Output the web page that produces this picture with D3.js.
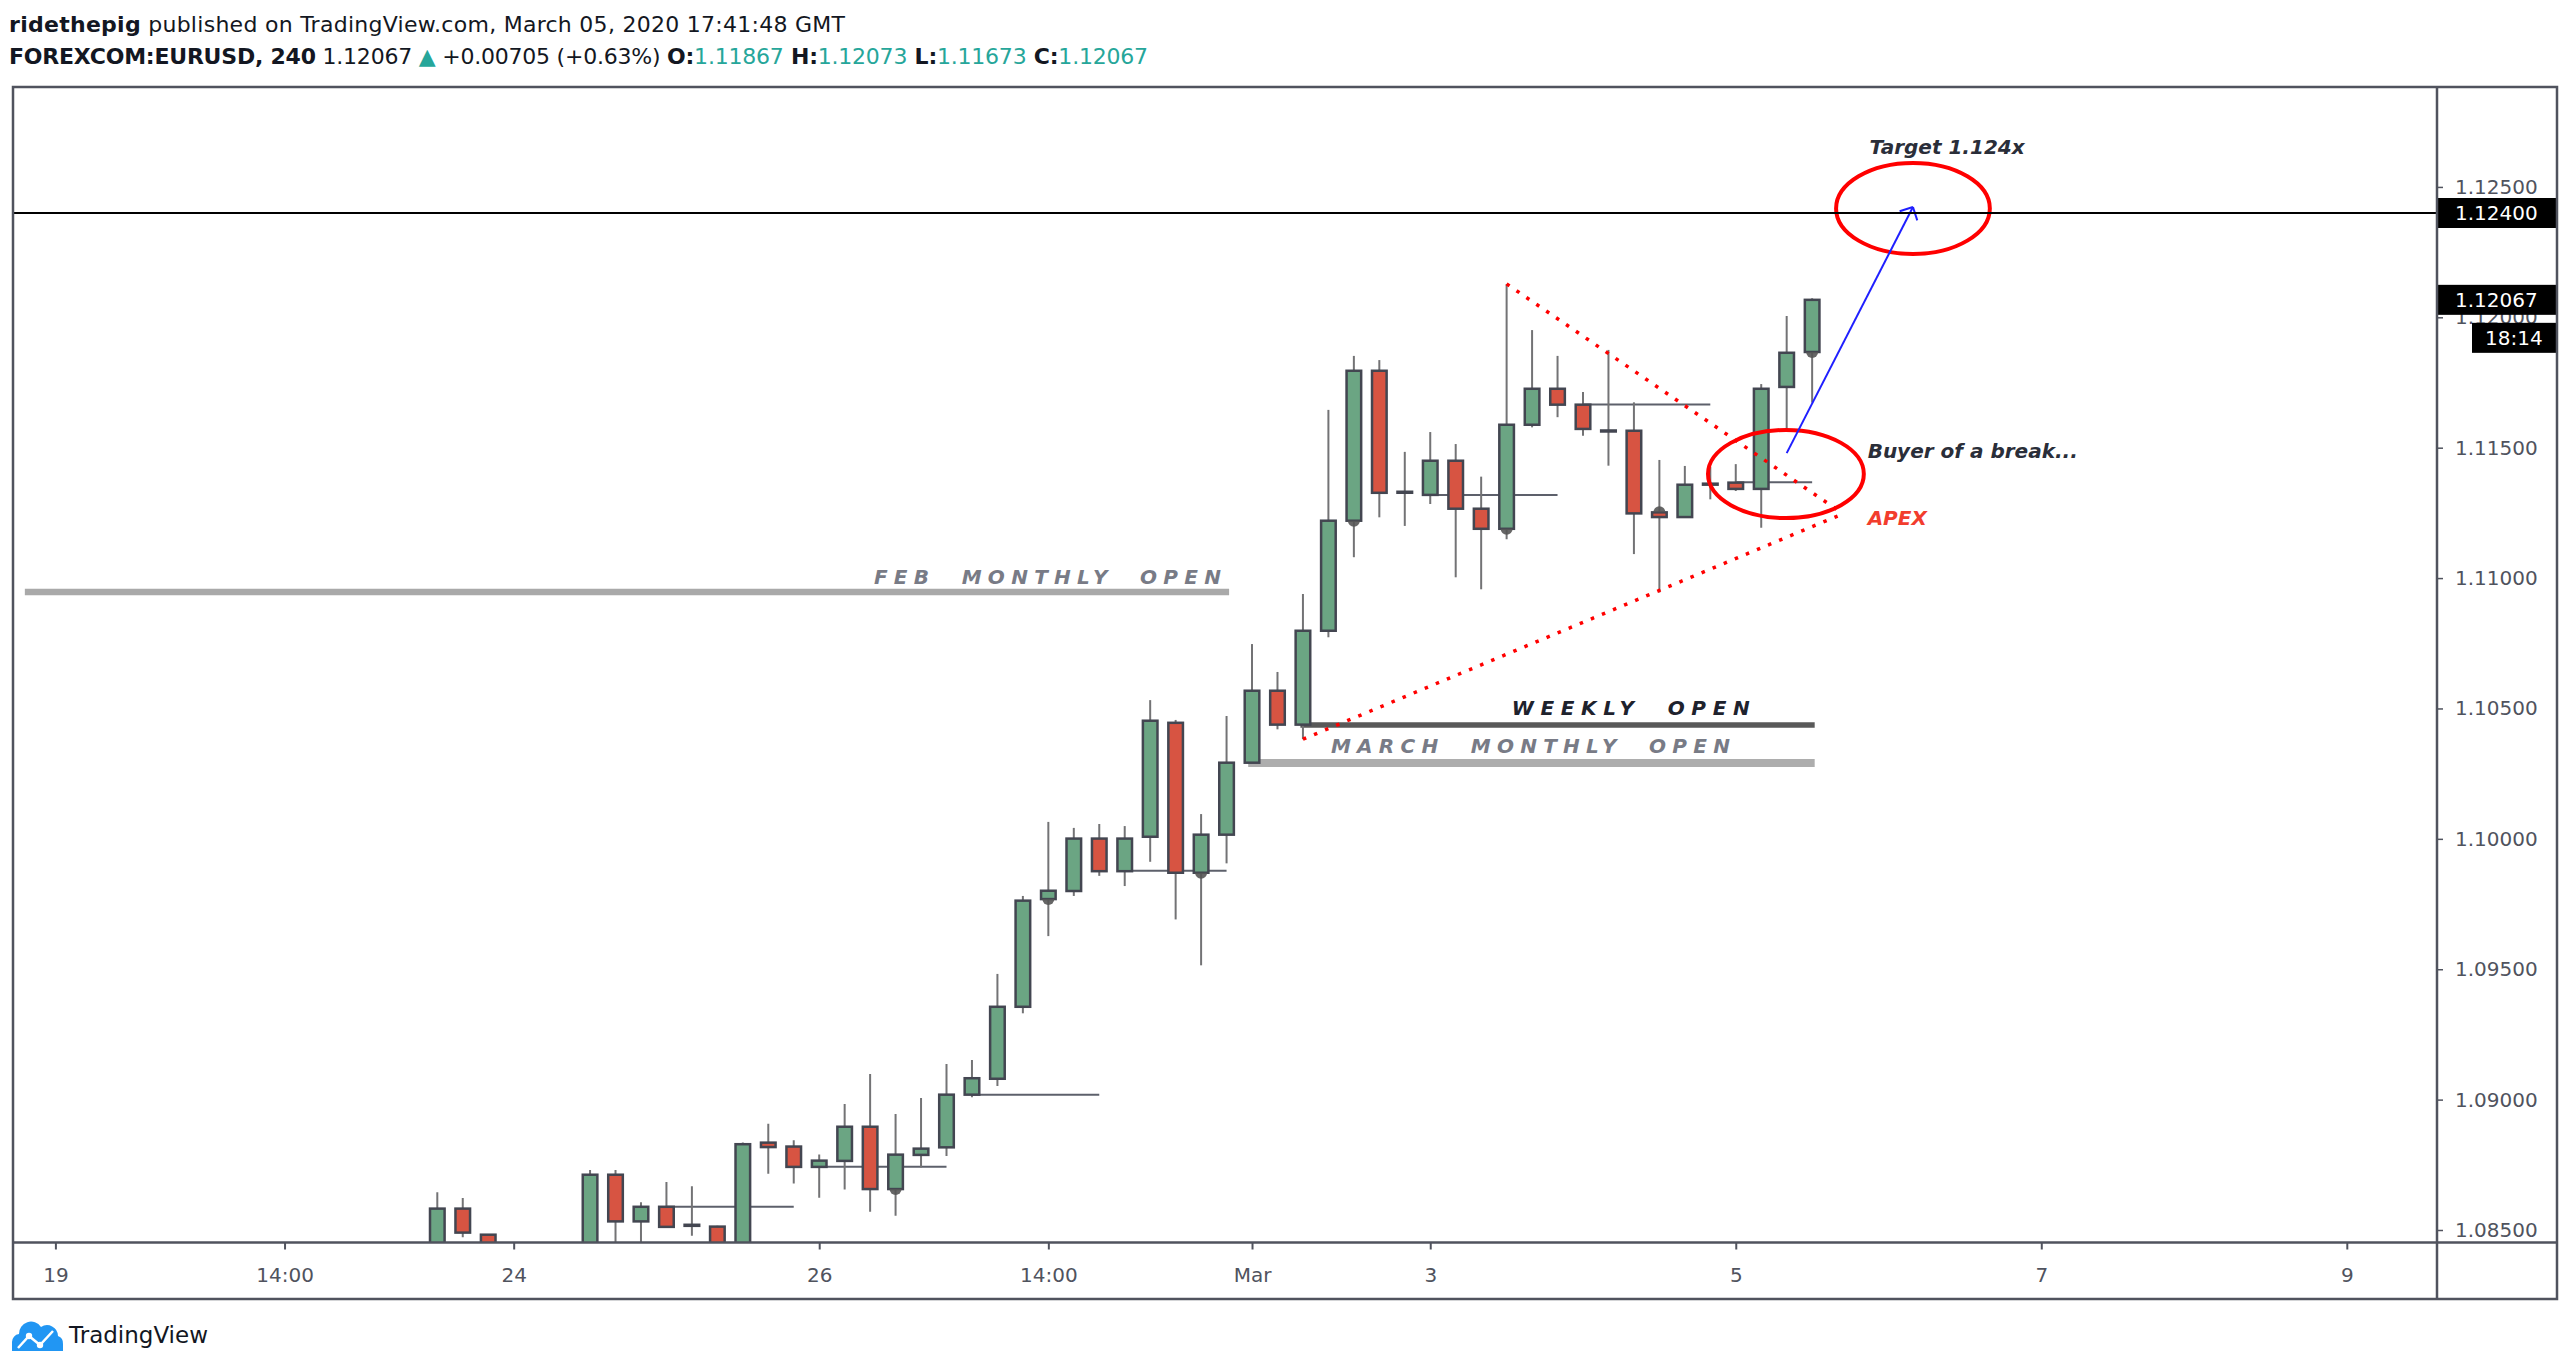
<!DOCTYPE html>
<html>
<head>
<meta charset="utf-8">
<title>EURUSD 240</title>
<script src="https://cdn.jsdelivr.net/npm/d3@7"></script>
<style>
  body { margin: 0; background: #fff; }
  text { font-family: "DejaVu Sans", sans-serif; }
</style>
</head>
<body>
<div id="chart"></div>
<script>
// 4h candles, bar 0 = first candle showing above the bottom edge (Feb 21)
// bars 3-5 sit under the visible range, only a guess
var opens  = [1.0838, 1.08582, 1.08482, 1.0842, 1.0833, 1.0836, 1.0839, 1.08712, 1.08533, 1.08589,
              1.08520, 1.08513, 1.0843, 1.08835, 1.08820, 1.08742, 1.08765, 1.08896, 1.08657, 1.08788,
              1.08817, 1.09019, 1.09080, 1.09356, 1.09769, 1.09800, 1.10001, 1.09876, 1.10008, 1.10445,
              1.09870, 1.10016, 1.10292, 1.10568, 1.10438, 1.10798, 1.11220, 1.11795, 1.11331, 1.11319,
              1.11450, 1.11266, 1.11189, 1.11588, 1.11726, 1.11665, 1.11566, 1.11565, 1.11252, 1.11234,
              1.11362, 1.11366, 1.11342, 1.11733, 1.11867];
var highs  = [1.08645, 1.08623, 1.08485, 1.0844, 1.0841, 1.0843, 1.08730, 1.08730, 1.08606, 1.08684,
              1.08668, 1.08516, 1.08836, 1.08907, 1.08844, 1.08790, 1.08983, 1.09098, 1.08945, 1.09006,
              1.09137, 1.09152, 1.09482, 1.09781, 1.10065, 1.10042, 1.10057, 1.10049, 1.10532, 1.10456,
              1.10095, 1.10471, 1.10747, 1.10640, 1.10939, 1.11645, 1.11852, 1.11836, 1.11484, 1.11560,
              1.11514, 1.11389, 1.12128, 1.11951, 1.11852, 1.11714, 1.11875, 1.11674, 1.11453, 1.11430,
              1.11427, 1.11437, 1.11744, 1.12005, 1.12073];
var lows   = [1.0835, 1.08472, 1.0836, 1.0828, 1.0825, 1.0830, 1.0837, 1.0843, 1.0844, 1.08510,
              1.08478, 1.0840, 1.0841, 1.08716, 1.08678, 1.08624, 1.08655, 1.08570, 1.08555, 1.08740,
              1.08784, 1.09009, 1.09052, 1.09331, 1.09627, 1.09781, 1.09858, 1.09819, 1.09912, 1.09691,
              1.09515, 1.09906, 1.10290, 1.10420, 1.10382, 1.10773, 1.11080, 1.11233, 1.11200, 1.11284,
              1.11003, 1.10957, 1.11149, 1.11578, 1.11617, 1.11546, 1.11431, 1.11092, 1.10945, 1.11234,
              1.11302, 1.11334, 1.11193, 1.11571, 1.11673];
var closes = [1.08582, 1.08490, 1.0842, 1.0833, 1.0836, 1.0839, 1.08712, 1.08533, 1.08589, 1.08512,
              1.08516, 1.0843, 1.08829, 1.08818, 1.08742, 1.08766, 1.08896, 1.08657, 1.08789, 1.08812,
              1.09019, 1.09082, 1.09356, 1.09763, 1.09801, 1.10001, 1.09876, 1.10001, 1.10453, 1.09870,
              1.10016, 1.10292, 1.10568, 1.10438, 1.10798, 1.11220, 1.11795, 1.11327, 1.11329, 1.11450,
              1.11266, 1.11189, 1.11588, 1.11726, 1.11665, 1.11572, 1.11563, 1.11248, 1.11234, 1.11358,
              1.11360, 1.11342, 1.11726, 1.11864, 1.12067];

// bars with the little session marker at their open
var markerBars = [18, 24, 30, 36, 42, 48, 54];

// time axis, placed by bar number
var timeTicks  = [-15, -6, 3, 15, 24, 32, 39, 51, 63, 75];
var timeLabels = ["19", "14:00", "24", "26", "14:00", "Mar", "3", "5", "7", "9"];
var priceTicks = [1.085, 1.09, 1.095, 1.1, 1.105, 1.11, 1.115, 1.12, 1.125];

// short daily open lines
var dayOpenPrice = [1.08589, 1.08743, 1.09019, 1.09878, 1.11319, 1.11666, 1.11367];
var dayOpenFrom  = [9, 15, 21, 27, 39, 45, 51];
var dayOpenTo    = [14, 20, 26, 31, 44, 50, 54];

// hand drawn levels
var levelNames = ["FEB  MONTHLY  OPEN", "WEEKLY  OPEN", "MARCH  MONTHLY  OPEN"];
var levelPrice = [1.10947, 1.10437, 1.10291];
var levelFrom  = [-16.2, 33.9, 31.85];
var levelTo    = [31.1, 54.1, 54.1];

// triangle sides [bar, price] -> [bar, price]
var upperSide = [[42, 1.12128], [55, 1.11261]];
var lowerSide = [[34, 1.10382], [55, 1.11238]];

var targetPrice = 1.124;
var lastPrice = 1.12067;
var countdown = "18:14";

var W = 2570, H = 1372;
var plot = {left: 13, right: 2437, top: 87, bottom: 1242.5, frameBottom: 1299, frameRight: 2557};

var svg = d3.select("#chart").append("svg")
  .attr("width", W).attr("height", H)
  .style("display", "block");

svg.append("rect").attr("width", W).attr("height", H).attr("fill", "#fff");

var x = d3.scaleLinear().domain([0, 54]).range([437.3, 437.3 + 25.46 * 54]);
var y = d3.scaleLinear().domain([1.085, 1.124]).range([1230, 213]);

svg.append("clipPath").attr("id", "plotclip")
  .append("rect")
  .attr("x", plot.left).attr("y", plot.top)
  .attr("width", plot.right - plot.left).attr("height", plot.bottom - plot.top);

var g = svg.append("g").attr("clip-path", "url(#plotclip)");

// ---- header
var head = svg.append("g").attr("fill", "#131722").style("font-size", "22px");
var l1 = head.append("text").attr("x", 9).attr("y", 32)
  .attr("textLength", 836).attr("lengthAdjust", "spacing");
l1.append("tspan").attr("font-weight", "bold").text("ridethepig");
l1.append("tspan").text(" published on TradingView.com, March 05, 2020 17:41:48 GMT");

var teal = "#26a69a";
var l2 = head.append("text").attr("x", 9).attr("y", 64)
  .attr("textLength", 1139).attr("lengthAdjust", "spacing");
l2.append("tspan").attr("font-weight", "bold").text("FOREXCOM:EURUSD, 240");
l2.append("tspan").text(" 1.12067 ");
l2.append("tspan").attr("fill", teal).text("\u25B2");
l2.append("tspan").text(" +0.00705 (+0.63%) ");
[["O:", "1.11867"], ["H:", "1.12073"], ["L:", "1.11673"], ["C:", "1.12067"]].forEach(function(p, k) {
  l2.append("tspan").attr("font-weight", "bold").text((k ? " " : "") + p[0]);
  l2.append("tspan").attr("fill", teal).text(p[1]);
});

// ---- daily open lines
dayOpenPrice.forEach(function(p, k) {
  g.append("line")
    .attr("x1", x(dayOpenFrom[k])).attr("x2", x(dayOpenTo[k]))
    .attr("y1", y(p)).attr("y2", y(p))
    .attr("stroke", "#5d606b").attr("stroke-width", 2);
});

// ---- levels
var levelStyle = [
  {color: "#a9a9a9", width: 6.5, text: "#787b86", textFrom: 17.15, textLen: 347, gap: 8},
  {color: "#595959", width: 5.5, text: "#1e222d", textFrom: 42.2, textLen: 238, gap: 10},
  {color: "#adadad", width: 8, text: "#787b86", textFrom: 35.1, textLen: 399, gap: 10}
];
levelPrice.forEach(function(p, k) {
  var s = levelStyle[k];
  g.append("line")
    .attr("x1", x(levelFrom[k])).attr("x2", x(levelTo[k]))
    .attr("y1", y(p)).attr("y2", y(p))
    .attr("stroke", s.color).attr("stroke-width", s.width);
  g.append("text")
    .attr("x", x(s.textFrom)).attr("y", y(p) - s.gap)
    .attr("fill", s.text)
    .attr("font-weight", "bold").attr("font-style", "italic")
    .style("font-size", "20px").style("white-space", "pre")
    .attr("textLength", s.textLen).attr("lengthAdjust", "spacing")
    .text(levelNames[k]);
});

// ---- candles
var bars = d3.range(opens.length).map(function(i) {
  return {i: i, o: opens[i], h: highs[i], l: lows[i], c: closes[i]};
});

g.selectAll(".wick").data(bars).enter().append("line")
  .attr("x1", function(d) { return x(d.i); })
  .attr("x2", function(d) { return x(d.i); })
  .attr("y1", function(d) { return y(d.h); })
  .attr("y2", function(d) { return y(d.l); })
  .attr("stroke", "#737375").attr("stroke-width", 2);

var bw = 14.6;
g.selectAll(".body").data(bars).enter().append("rect")
  .attr("x", function(d) { return x(d.i) - bw / 2; })
  .attr("width", bw)
  .attr("y", function(d) { return y(Math.max(d.o, d.c)); })
  .attr("height", function(d) { return Math.max(1, Math.abs(y(d.o) - y(d.c))); })
  .attr("fill", function(d) { return d.c >= d.o ? "#6ba583" : "#d75442"; })
  .attr("stroke", "#434651").attr("stroke-width", 2.5);

// small session markers
markerBars.forEach(function(i) {
  var cx = x(i), cy = y(opens[i]), r = 6;
  var up = closes[i] < opens[i];
  g.append("path")
    .attr("d", "M" + (cx - r) + "," + cy + " A" + r + "," + r + " 0 0 " + (up ? 1 : 0) + " " + (cx + r) + "," + cy + " Z")
    .attr("fill", "#555").attr("opacity", 0.9);
});

// ---- triangle
[upperSide, lowerSide].forEach(function(s) {
  g.append("line")
    .attr("x1", x(s[0][0])).attr("y1", y(s[0][1]))
    .attr("x2", x(s[1][0])).attr("y2", y(s[1][1]))
    .attr("stroke", "#ff0000").attr("stroke-width", 3.5)
    .attr("stroke-dasharray", "3.5 8.5");
});

// ---- ellipses [bar, price] box corners
var ellipses = [
  [[54.94, 1.12592], [60.98, 1.12243]],
  [[49.91, 1.11568], [56.03, 1.11230]]
];
ellipses.forEach(function(e) {
  var x0 = x(e[0][0]), x1 = x(e[1][0]), y0 = y(e[0][1]), y1 = y(e[1][1]);
  g.append("ellipse")
    .attr("cx", (x0 + x1) / 2).attr("cy", (y0 + y1) / 2)
    .attr("rx", (x1 - x0) / 2).attr("ry", (y1 - y0) / 2)
    .attr("fill", "none").attr("stroke", "#ff0000").attr("stroke-width", 4);
});

// ---- arrow to target
var a0 = [x(53.0), y(1.11479)], a1 = [x(57.96), y(1.12423)];
g.append("line")
  .attr("x1", a0[0]).attr("y1", a0[1]).attr("x2", a1[0]).attr("y2", a1[1])
  .attr("stroke", "#1f1fff").attr("stroke-width", 2);
var ang = Math.atan2(a0[1] - a1[1], a0[0] - a1[0]);
[-Math.PI / 4, Math.PI / 4].forEach(function(da) {
  g.append("line")
    .attr("x1", a1[0]).attr("y1", a1[1])
    .attr("x2", a1[0] + 14 * Math.cos(ang + da)).attr("y2", a1[1] + 14 * Math.sin(ang + da))
    .attr("stroke", "#1f1fff").attr("stroke-width", 2);
});

// ---- notes
var notes = [
  {t: "Target 1.124x", i: 56.25, p: 1.12626, c: "#2a2e39"},
  {t: "Buyer of a break...", i: 56.18, p: 1.11459, c: "#2a2e39"},
  {t: "APEX", i: 56.18, p: 1.11204, c: "#f23d2d"}
];
notes.forEach(function(n) {
  g.append("text")
    .attr("x", x(n.i)).attr("y", y(n.p))
    .attr("fill", n.c)
    .attr("font-weight", "bold").attr("font-style", "italic")
    .style("font-size", "20px")
    .text(n.t);
});

// target line
g.append("line")
  .attr("x1", plot.left).attr("x2", plot.right)
  .attr("y1", y(targetPrice)).attr("y2", y(targetPrice))
  .attr("stroke", "#000").attr("stroke-width", 2);

// ---- axes
var axisColor = "#50535e";
var xAxis = svg.append("g")
  .attr("transform", "translate(0," + plot.bottom + ")")
  .call(d3.axisBottom(x).tickValues(timeTicks)
    .tickFormat(function(d, k) { return timeLabels[k]; })
    .tickSize(7).tickPadding(18));
xAxis.select(".domain").remove();
xAxis.selectAll("line").attr("stroke", axisColor).attr("stroke-width", 2);
xAxis.selectAll("text").attr("fill", axisColor)
  .style("font-family", "DejaVu Sans").style("font-size", "20px");

var yAxis = svg.append("g")
  .attr("transform", "translate(" + plot.right + ",0)")
  .call(d3.axisRight(y).tickValues(priceTicks)
    .tickFormat(d3.format(".5f"))
    .tickSize(6).tickPadding(12));
yAxis.select(".domain").remove();
yAxis.selectAll("line").attr("stroke", axisColor).attr("stroke-width", 1.5);
yAxis.selectAll("text").attr("fill", axisColor)
  .style("font-family", "DejaVu Sans").style("font-size", "20px")
  .attr("text-anchor", "start");

// price tags on the scale
function tag(price, label, x0) {
  var cy = y(price);
  svg.append("rect")
    .attr("x", x0).attr("y", cy - 15)
    .attr("width", plot.frameRight - x0).attr("height", 30)
    .attr("fill", "#000");
  svg.append("text")
    .attr("x", plot.right + 18).attr("y", cy).attr("dy", "0.35em")
    .attr("fill", "#fff").style("font-size", "20px")
    .text(label);
}
tag(targetPrice, d3.format(".5f")(targetPrice), plot.right);
tag(lastPrice, d3.format(".5f")(lastPrice), plot.right);
svg.append("rect")
  .attr("x", 2472).attr("y", y(lastPrice) + 23)
  .attr("width", plot.frameRight - 2472).attr("height", 30)
  .attr("fill", "#000");
svg.append("text")
  .attr("x", 2485).attr("y", y(lastPrice) + 38).attr("dy", "0.35em")
  .attr("fill", "#fff").style("font-size", "20px")
  .text(countdown);

// ---- frame
var frame = svg.append("g").attr("stroke", axisColor).attr("fill", "none");
frame.append("rect")
  .attr("x", plot.left).attr("y", plot.top)
  .attr("width", plot.frameRight - plot.left).attr("height", plot.frameBottom - plot.top)
  .attr("stroke-width", 2.5);
frame.append("line")
  .attr("x1", plot.right).attr("x2", plot.right)
  .attr("y1", plot.top).attr("y2", plot.frameBottom)
  .attr("stroke-width", 2.5);
frame.append("line")
  .attr("x1", plot.left).attr("x2", plot.frameRight)
  .attr("y1", plot.bottom).attr("y2", plot.bottom)
  .attr("stroke-width", 2.5);

// ---- logo
var logo = svg.append("g");
logo.append("path")
  .attr("d", "M12,1351 L12,1342 A8,8 0 0 1 19,1334 A12,12 0 0 1 41,1327 A11,11 0 0 1 58,1336 A8,8 0 0 1 63,1344 L63,1351 Z")
  .attr("fill", "#2196f3");
logo.append("polyline")
  .attr("points", "18,1348 29,1336 40,1345 53,1331")
  .attr("fill", "none").attr("stroke", "#fff").attr("stroke-width", 2.5);
logo.selectAll("circle").data([[29, 1336], [40, 1345]]).enter().append("circle")
  .attr("cx", function(d) { return d[0]; }).attr("cy", function(d) { return d[1]; })
  .attr("r", 3.2).attr("fill", "#fff");
svg.append("text")
  .attr("x", 69).attr("y", 1343)
  .attr("fill", "#131722").style("font-size", "23px")
  .text("TradingView");
</script>
</body>
</html>
